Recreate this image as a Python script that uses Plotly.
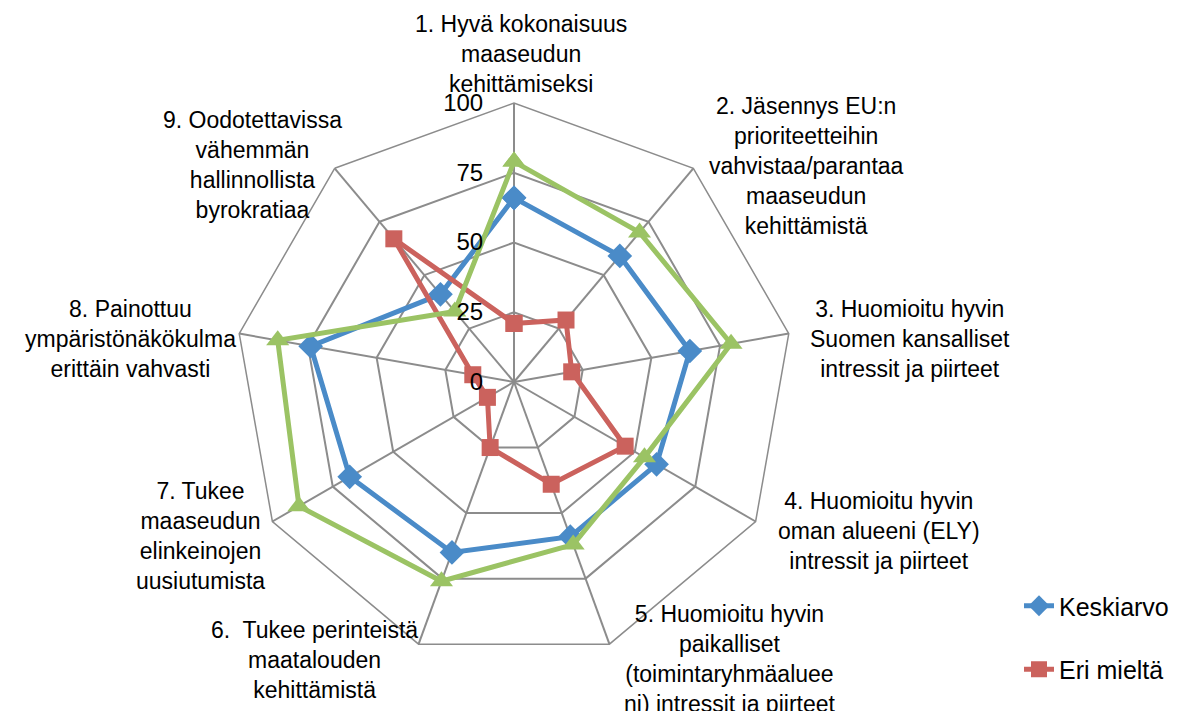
import plotly.graph_objects as go

categories = [
    "1. Hyvä kokonaisuus<br>maaseudun<br>kehittämiseksi",
    "2. Jäsennys EU:n<br>prioriteetteihin<br>vahvistaa/parantaa<br>maaseudun<br>kehittämistä",
    "3. Huomioitu hyvin<br>Suomen kansalliset<br>intressit ja piirteet",
    "4. Huomioitu hyvin<br>oman alueeni (ELY)<br>intressit ja piirteet",
    "5. Huomioitu hyvin<br>paikalliset<br>(toimintaryhmäaluee<br>ni) intressit ja piirteet",
    "6.  Tukee perinteistä<br>maatalouden<br>kehittämistä",
    "7. Tukee<br>maaseudun<br>elinkeinojen<br>uusiutumista",
    "8. Painottuu<br>ympäristönäkökulma<br>erittäin vahvasti",
    "9. Oodotettavissa<br>vähemmän<br>hallinnollista<br>byrokratiaa",
]
keys = [str(i) for i in range(1, 10)]

keskiarvo = [66, 59, 64, 59, 59, 65, 68, 74, 41]
eri_mielta = [21, 29, 21, 46, 39, 25, 11, 15, 67]
samaa_mielta = [79, 70, 79, 54, 62, 76, 89, 86, 33]

radial_ticks = [0, 25, 50, 75, 100]

# label centres in pixels (x, y from top)
label_pos = [(513, 46), (798, 158), (902, 331), (871, 523), (722, 651),
             (307, 652), (193, 528), (122, 331), (244, 157)]

W, H = 1184, 711
font = "Liberation Sans, Arial, sans-serif"

fig = go.Figure()

def add_series(vals, name, color, symbol, size, legend):
    fig.add_trace(go.Scatterpolar(
        r=vals + vals[:1], theta=keys + keys[:1], mode="lines+markers", name=name,
        line=dict(color=color, width=5),
        marker=dict(symbol=symbol, size=size, color=color),
        showlegend=legend, legendgroup=name,
    ))

add_series(keskiarvo, "Keskiarvo", "#4A8BC8", "diamond", 19, True)
add_series(eri_mielta, "Eri mieltä", "#CB625D", "square", 17, True)
add_series(samaa_mielta, "Samaa mieltä", "#9BC364", "triangle-up", 20, False)

for text, (x, y) in zip(categories, label_pos):
    fig.add_annotation(x=x / W, y=1 - y / H, xref="paper", yref="paper",
                       text=text, showarrow=False, align="center",
                       xanchor="center", yanchor="middle",
                       font=dict(size=23, color="black", family=font))

# invisible padding keeps the tick numbers off the spoke, like in the original
pad = "<span style='color:rgba(0,0,0,0)'>00</span>"
tick_text = [f"{v}{pad}" for v in radial_ticks]

# polar centre / radius in pixels (shifted to compensate plotly's padding)
cx, cy, R = 506, 374, 279
fig.update_layout(
    width=W, height=H,
    margin=dict(l=0, r=0, t=0, b=0),
    paper_bgcolor="white",
    font=dict(family=font, color="black"),
    polar=dict(
        domain=dict(x=[(cx - R) / W, (cx + R) / W], y=[1 - (cy + R) / H, 1 - (cy - R) / H]),
        bgcolor="white",
        gridshape="linear",
        angularaxis=dict(rotation=90, direction="clockwise", showticklabels=False,
                         ticks="", linecolor="#8C8C8C", linewidth=1.5,
                         gridcolor="#8C8C8C", gridwidth=1.5),
        radialaxis=dict(range=[0, 100], tickvals=radial_ticks, ticktext=tick_text,
                        angle=90, tickangle=90,
                        side="counterclockwise", showline=False, ticks="",
                        gridcolor="#8C8C8C", gridwidth=1.5,
                        tickfont=dict(size=24, color="black")),
    ),
    legend=dict(x=1011 / W, y=1 - 575 / H, xanchor="left", yanchor="top",
                font=dict(size=25, color="black"), tracegroupgap=28,
                bgcolor="rgba(0,0,0,0)"),
)

fig.write_html("out.html")
